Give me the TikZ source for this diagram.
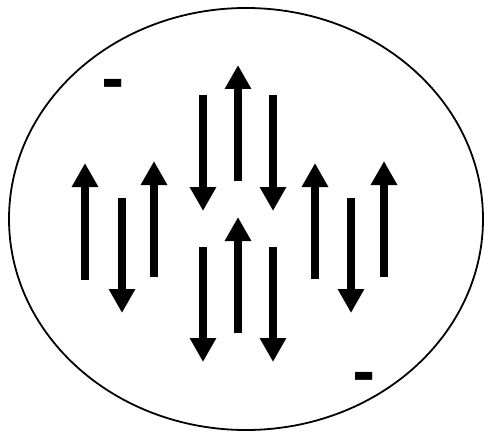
\documentclass[tikz,border=0pt]{standalone}
\usepackage{fontspec}
\setmainfont{DejaVu Sans}
\usetikzlibrary{arrows.meta}
\begin{document}
\begin{tikzpicture}[x=1pt,y=-1pt,
  spin/.style={line width=8pt, -{Triangle[length=24pt,width=25pt]}},
  charge/.style={font=\fontsize{56}{56}\selectfont\bfseries, inner sep=0pt}]
\useasboundingbox (0,0) rectangle (484,433);
\fill[white] (0,0) rectangle (484,433);
\draw[line width=1.8pt] (246,219) ellipse [x radius=237, y radius=211];
% coordinates: tail (t) and tip (h)
\coordinate (a1t) at (85,280);  \coordinate (a1h) at (85,163);
\coordinate (a2t) at (122,198); \coordinate (a2h) at (122,313);
\coordinate (a3t) at (154,277); \coordinate (a3h) at (154,161);
\coordinate (a4t) at (203,95);  \coordinate (a4h) at (203,211);
\coordinate (a5t) at (238,181); \coordinate (a5h) at (238,65);
\coordinate (a6t) at (273,95);  \coordinate (a6h) at (273,211);
\coordinate (a7t) at (203,247); \coordinate (a7h) at (203,362);
\coordinate (a8t) at (238,333); \coordinate (a8h) at (238,217);
\coordinate (a9t) at (273,247); \coordinate (a9h) at (273,362);
\coordinate (a10t) at (315,279); \coordinate (a10h) at (315,163);
\coordinate (a11t) at (351,198); \coordinate (a11h) at (351,313);
\coordinate (a12t) at (384,277); \coordinate (a12h) at (384,161);
\foreach \i in {1,...,12} {\draw[spin] (a\i t) -- (a\i h);}
\node[charge] (m1) at (113,89.5) {-};
\node[charge] (m2) at (364.5,382.5) {-};
\end{tikzpicture}
\end{document}
